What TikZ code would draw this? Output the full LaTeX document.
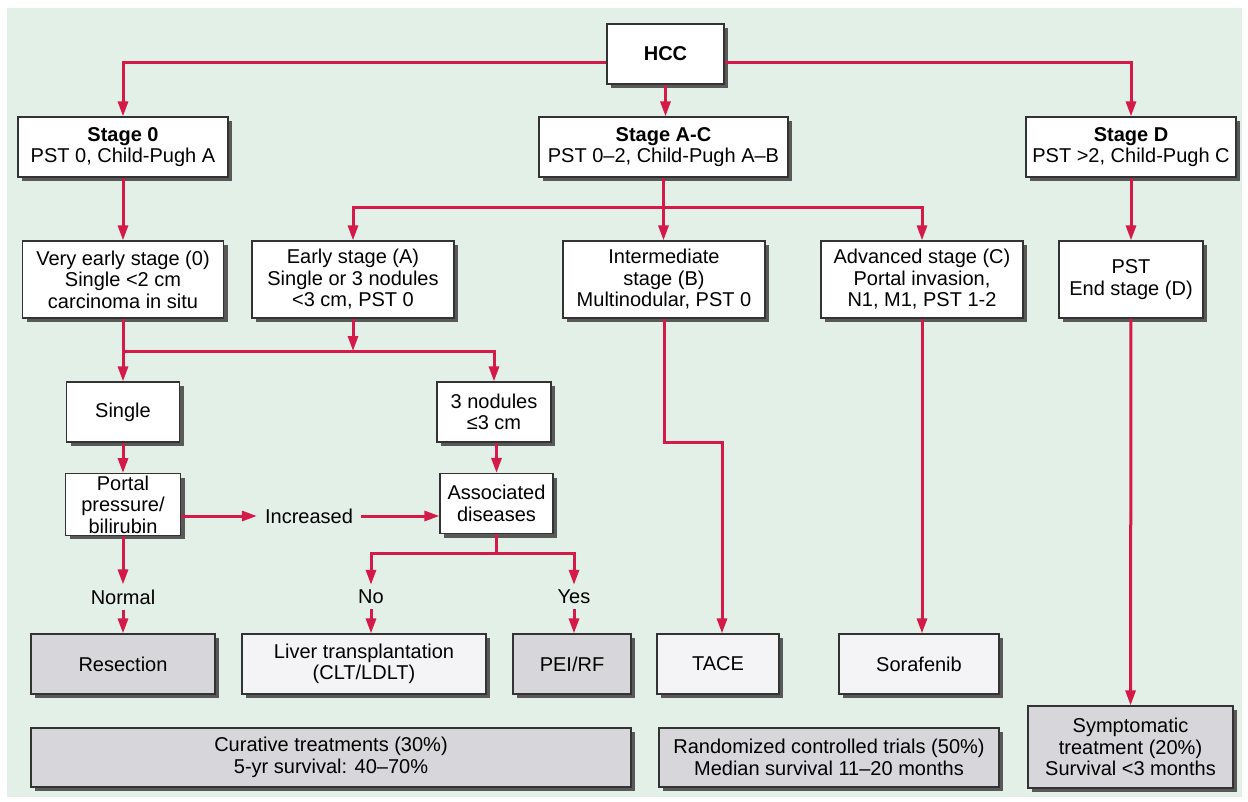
\documentclass[tikz,border=0pt]{standalone}
\usepackage{fontspec}
\setmainfont{Liberation Sans}
\usepackage{xcolor}
\usetikzlibrary{arrows.meta,calc,positioning,shadows}
\definecolor{bggreen}{RGB}{226,240,231}
\definecolor{hccred}{RGB}{212,26,72}
\definecolor{boxgray}{RGB}{214,214,219}
\definecolor{boxlight}{RGB}{244,244,246}
\newcommand{\boxfont}{\fontsize{20}{21.5}\selectfont}

\begin{document}
\begin{tikzpicture}[x=1pt,y=-1pt,
  box/.style={draw=black!80,line width=1.2pt,fill=white,align=center,inner sep=2pt,font=\boxfont,
    drop shadow={shadow xshift=4pt,shadow yshift=-4pt,fill=black!65,opacity=1}},
  gbox/.style={box,fill=boxgray},
  lbox/.style={box,fill=boxlight},
  lbl/.style={font=\boxfont,inner xsep=1pt,inner ysep=5pt},
  link/.style={hccred,line width=3pt},
  arr/.style={link,-{Triangle[length=15pt,width=10pt]}}
]
\useasboundingbox (0,0) rectangle (1248,801);
\fill[white] (0,0) rectangle (1248,801);
\fill[bggreen] (7,8) rectangle (1242,797);

% stages
\node[box,minimum width=117pt,minimum height=60pt,font=\boxfont\bfseries] (hcc) at (665.5,54) {HCC};
\node[box,minimum width=210pt,minimum height=60pt] (st0) at (123,147) {\textbf{Stage 0}\\PST 0, Child-Pugh A};
\node[box,minimum width=249pt,minimum height=60pt] (stac) at (663.5,147) {\textbf{Stage A-C}\\PST 0–2, Child-Pugh A–B};
\node[box,minimum width=210pt,minimum height=60pt] (std) at (1131,147) {\textbf{Stage D}\\PST >2, Child-Pugh C};

\node[box,minimum width=201pt,minimum height=77pt] (vearly) at (123,279.5) {Very early stage (0)\\Single <2 cm\\carcinoma in situ};
\node[box,minimum width=202pt,minimum height=77pt] (early) at (353,279.5) {Early stage (A)\\Single or 3 nodules\\<3 cm, PST 0};
\node[box,minimum width=202pt,minimum height=77pt] (inter) at (664,279.5) {Intermediate\\stage (B)\\Multinodular, PST 0};
\node[box,minimum width=202pt,minimum height=77pt] (adv) at (922,279.5) {Advanced stage (C)\\Portal invasion,\\N1, M1, PST 1-2};
\node[box,minimum width=144pt,minimum height=77pt] (pst) at (1131,279.5) {PST\\End stage (D)};

% early branch
\node[box,minimum width=113pt,minimum height=60pt] (single) at (123,412) {Single};
\node[box,minimum width=114pt,minimum height=60pt] (nod3) at (494,412) {3 nodules\\≤3 cm};
\node[box,minimum width=115pt,minimum height=61pt] (portal) at (123,504.5) {Portal\\pressure/\\bilirubin};
\node[box,minimum width=113pt,minimum height=60pt] (assoc) at (496.5,503.5) {Associated\\diseases};
\node[lbl,inner xsep=8pt] (incr) at (309,516) {Increased};
\node[lbl] (normal) at (123,597) {Normal};
\node[lbl] (no) at (371,597) {No};
\node[lbl] (yes) at (574,597) {Yes};

% treatments
\node[gbox,minimum width=184pt,minimum height=60pt] (resec) at (123,664) {Resection};
\node[lbox,minimum width=244pt,minimum height=60pt] (liver) at (364,664) {Liver transplantation\\(CLT/LDLT)};
\node[gbox,minimum width=118pt,minimum height=60pt] (pei) at (572,664) {PEI/RF};
\node[lbox,minimum width=122pt,minimum height=60pt] (tace) at (718,664) {TACE};
\node[lbox,minimum width=160pt,minimum height=60pt] (sora) at (919,664) {Sorafenib};
\node[gbox,minimum width=205pt,minimum height=82pt] (symp) at (1130.5,747) {Symptomatic\\treatment (20\%)\\Survival <3 months};
\node[gbox,minimum width=600pt,minimum height=59pt] (cur) at (331,757.5) {Curative treatments (30\%)\\5-yr survival: 40–70\%};
\node[gbox,minimum width=340pt,minimum height=59pt] (rct) at (829,757.5) {Randomized controlled trials (50\%)\\Median survival 11–20 months};

% connectors
\coordinate (topbar) at (0,62);
\coordinate (acbar) at (0,207);
\coordinate (zabar) at (0,351);
\coordinate (dzbar) at (0,553);
\coordinate (tcbar) at (722,442);

\draw[arr] (hcc.south) -- (hcc.south |- stac.north);
\draw[arr] (hcc.west |- topbar) -| (st0.north);
\draw[arr] (hcc.east |- topbar) -| (std.north);

\draw[arr] (st0.south) -- (vearly.north);
\draw[arr] (stac.south) -- (stac.south |- inter.north);
\draw[arr] (stac.south |- acbar) -| (early.north);
\draw[arr] (stac.south |- acbar) -| (adv.north);
\draw[arr] (std) -- (pst);

\draw[link] (vearly.south) -- (vearly.south |- zabar);
\draw[arr] (early.south) -- (early.south |- zabar);
\draw[arr] (vearly.south |- zabar) -- (single.north);
\draw[arr] (vearly.south |- zabar) -| (nod3.north);

\draw[arr] (single) -- (portal);
\draw[arr] (nod3.south -| assoc) -- (assoc.north);
\draw[arr] (portal.east |- incr) -- (incr.west);
\draw[arr] (incr.east) -- (incr -| assoc.west);
\draw[arr] (portal.south) -- (normal.north);
\draw[arr] (normal.south) -- (resec.north);

\draw[link] (assoc.south) -- (assoc.south |- dzbar);
\draw[arr] (assoc.south |- dzbar) -| (no.north);
\draw[arr] (assoc.south |- dzbar) -| (yes.north);
\draw[arr] (no.south) -- (no.south |- liver.north);
\draw[arr] (yes.south) -- (yes.south |- pei.north);

\draw[arr] (inter.south) |- (tcbar) -- (tcbar |- tace.north);
\draw[arr] (adv.south) -- (adv.south |- sora.north);
\draw[arr] (pst) -- (symp);
\end{tikzpicture}
\end{document}
